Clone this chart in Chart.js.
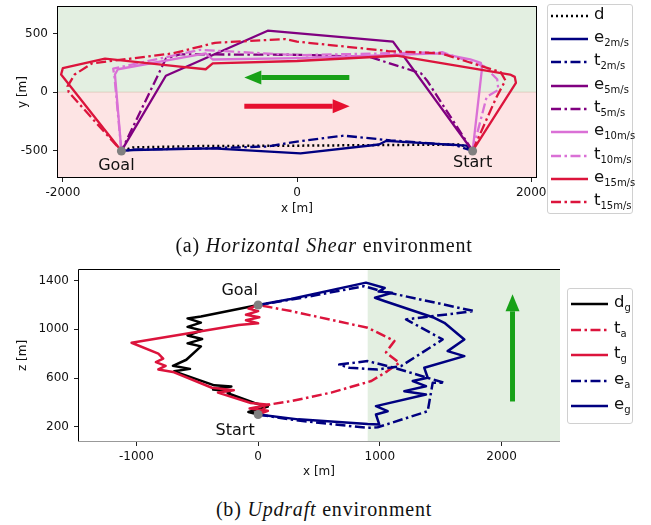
<!DOCTYPE html>
<html>
<head>
<meta charset="utf-8">
<script src="https://cdn.jsdelivr.net/npm/chart.js@4.4.1/dist/chart.umd.min.js"></script>
<style>
  body { margin: 0; width: 651px; height: 525px; background: #fff; position: relative; overflow: hidden; font-family: "DejaVu Sans", sans-serif; }
  canvas { position: absolute; left: 0; }
  #shear { top: 0; }
  #updraft { top: 260px; }
  .leg { position: absolute; background: #fff; border: 1px solid #d0d0d0; border-radius: 3px; box-sizing: border-box; }
  .row { position: absolute; left: 3px; height: 20px; display: flex; align-items: center; white-space: nowrap; }
  .row svg { flex: none; }
  .row span { font-size: 16.5px; line-height: 20px; color: #111; margin-left: 6px; position: relative; top: -2px; }
  .row sub { font-size: 10px; line-height: 0; vertical-align: -4px; }
  .cap { position: absolute; left: 0; width: 648px; text-align: center; font-family: "Liberation Serif", "Times New Roman", serif; font-size: 20px; line-height: 20px; letter-spacing: 0.8px; color: #111; }
</style>
</head>
<body>
<canvas id="shear" width="560" height="225"></canvas>
<canvas id="updraft" width="575" height="225"></canvas>
<div class="leg" id="legShear" style="left:547px;top:4px;width:86px;height:210px"></div>
<div class="leg" id="legUpdraft" style="left:567px;top:288px;width:66px;height:136px"></div>
<div class="cap" style="top:235px">(a) <i>Horizontal Shear</i> environment</div>
<div class="cap" style="top:499px">(b) <i>Updraft</i> environment</div>
<script>
// ---- (a) horizontal shear: tick values
const shearXTicks = [-2000, 0, 2000];
const shearYTicks = [-500, 0, 500];

// ---- (a) trajectories, [x, y] in metres
const dPath = [[1500,-500],[1400,-445],[700,-450],[0,-455],[-800,-458],[-1400,-470],[-1500,-500]];
const e2 = [[1500,-500],[1450,-455],[760,-415],[700,-445],[30,-520],[-720,-478],[-1400,-492],[-1500,-500]];
const t2 = [[1500,-500],[1350,-450],[800,-410],[400,-370],[0,-420],[-250,-462],[-800,-478],[-1400,-488],[-1500,-500]];
const e5 = [[1500,-500],[820,430],[-250,523],[-1120,140],[-1500,-500]];
const t5 = [[1500,-500],[1110,100],[1060,160],[950,195],[620,300],[0,318],[-1000,322],[-1120,285],[-1500,-500]];
const e10 = [[1500,-500],[1580,200],[1570,250],[1480,280],[1220,330],[0,290],[-720,278],[-780,330],[-1530,195],[-1555,150],[-1500,-500]];
const t10 = [[1500,-500],[1620,-40],[1720,20],[1710,110],[1600,220],[1240,340],[0,315],[-830,360],[-1570,200],[-1560,140],[-1500,-500]];
const e15 = [[1500,-500],[1870,80],[1860,130],[1820,150],[850,310],[0,265],[-720,245],[-780,195],[-1000,218],[-1640,285],[-2000,205],[-2015,150],[-1500,-500]];
const t15 = [[1500,-500],[1700,-50],[1780,100],[1740,170],[1230,330],[780,350],[0,430],[-100,452],[-700,420],[-1060,330],[-1750,245],[-1900,150],[-1960,50],[-1950,0],[-1500,-500]];
const shearEnds = [[-1500,-500],[1500,-500]];   // Goal, Start

// ---- (b) updraft: tick values
const updraftXTicks = [-1000, 0, 1000, 2000];
const updraftZTicks = [200, 600, 1000, 1400];

// ---- (b) trajectories, [x, z] in metres
const dg = [[0,300],[-80,320],[80,365],[-30,395],[-250,475],[-230,490],[-370,505],[-220,530],[-360,540],[-690,655],[-560,675],[-700,700],[-590,750],[-470,860],[-580,885],[-460,920],[-580,950],[-460,990],[-580,1020],[-470,1055],[-580,1090],[-470,1105],[0,1200]];
const ta = [[0,300],[80,380],[270,410],[600,480],[930,575],[1060,655],[1160,725],[1050,810],[1120,905],[900,1013],[270,1150],[0,1200]];
const tg = [[0,300],[80,330],[-70,350],[90,380],[-60,395],[-330,480],[-200,500],[-380,520],[-700,650],[-820,670],[-760,700],[-840,730],[-780,760],[-820,800],[-1040,890],[-160,1035],[0,1050],[-100,1075],[10,1100],[-100,1120],[0,1150],[-80,1170],[0,1200]];
const ea = [[0,300],[330,250],[900,190],[982,195],[1393,327],[1434,560],[1530,560],[1118,684],[900,739],[666,711],[748,684],[982,670],[1174,698],[1516,917],[1215,1082],[1776,1150],[1009,1315],[871,1355],[351,1258],[0,1200]];
const eg = [[0,300],[330,260],[900,222],[995,218],[968,300],[1064,327],[968,369],[1379,464],[1201,492],[1379,533],[1270,575],[1393,602],[1365,684],[1694,780],[1557,821],[1694,917],[1530,1054],[1447,1095],[1036,1233],[960,1260],[1100,1300],[990,1310],[1040,1340],[886,1384],[269,1250],[0,1200]];
const updraftEnds = [[0,1200],[0,300]];         // Goal, Start

// wind arrows, [x1, y1, x2, y2] in data units
const shearArrows = [[447,124,-450,124],[-450,-120,450,-120]];
const updraftArrow = [2090,407,2090,1288];

// styles
const navy = '#000080', purple = '#800080', orchid = '#da70d6', crimson = '#dc143c';
const SOLID = [], DASHDOT = [10,3.5,2.5,3.5], DOTTED = [2,3];
const greenBg = '#e3efe1', pinkBg = '#fde4e4';
const tickFont = { family: 'DejaVu Sans', size: 12 };

const pts = a => a.map(p => ({ x: p[0], y: p[1] }));

function lineSet(data, color, dash, width, order) {
  return { data: pts(data), borderColor: color, backgroundColor: color, borderDash: dash,
           borderWidth: width, showLine: true, pointRadius: 0, fill: false, order: order,
           borderJoinStyle: 'round' };
}
function endsSet(data) {
  return { data: pts(data), pointRadius: 4.5, pointBackgroundColor: '#808080',
           pointBorderWidth: 0, showLine: false, order: -1 };
}

function drawArrow(ctx, x1, y1, x2, y2, color) {
  const w = 5, headLen = 17, headW = 14;
  const ang = Math.atan2(y2 - y1, x2 - x1);
  const bx = x2 - headLen * Math.cos(ang), by = y2 - headLen * Math.sin(ang);
  ctx.strokeStyle = color; ctx.lineWidth = w; ctx.lineCap = 'butt'; ctx.setLineDash([]);
  ctx.beginPath(); ctx.moveTo(x1, y1); ctx.lineTo(bx, by); ctx.stroke();
  ctx.fillStyle = color;
  ctx.beginPath(); ctx.moveTo(x2, y2);
  ctx.lineTo(bx + headW / 2 * Math.sin(ang), by - headW / 2 * Math.cos(ang));
  ctx.lineTo(bx - headW / 2 * Math.sin(ang), by + headW / 2 * Math.cos(ang));
  ctx.closePath(); ctx.fill();
}

function axis(min, max, ticks, title, fitSize, horizontal, titlePad) {
  return {
    type: 'linear', min: min, max: max,
    afterBuildTicks: s => { s.ticks = ticks.map(v => ({ value: v })); },
    afterFit: s => {
      if (horizontal) s.height = fitSize; else s.width = fitSize;
      s.paddingLeft = s.paddingRight = s.paddingTop = s.paddingBottom = 0;
    },
    grid: { drawOnChartArea: false, drawTicks: true, tickLength: 4, tickColor: '#222', lineWidth: 1 },
    border: { display: false },
    ticks: { font: tickFont, color: '#111', padding: horizontal ? 4 : 5, maxRotation: 0, autoSkip: false,
             callback: v => String(v) },
    title: { display: true, text: title, font: tickFont, color: '#111', padding: titlePad }
  };
}

const baseOpts = {
  responsive: false, animation: false, events: [],
  plugins: { legend: { display: false }, tooltip: { enabled: false } }
};

// ---------- (a) Horizontal Shear ----------
const shearDecor = {
  id: 'shearDecor',
  beforeDatasetsDraw(chart) {
    const { ctx, chartArea: a, scales: { x, y } } = chart;
    const y0 = y.getPixelForValue(0);
    ctx.save();
    ctx.fillStyle = greenBg; ctx.fillRect(a.left, a.top, a.width, y0 - a.top);
    ctx.fillStyle = pinkBg; ctx.fillRect(a.left, y0, a.width, a.bottom - y0);
    ctx.strokeStyle = 'rgba(190,150,120,0.35)'; ctx.lineWidth = 1;
    ctx.beginPath(); ctx.moveTo(a.left, y0); ctx.lineTo(a.right, y0); ctx.stroke();
    ctx.restore();
  },
  afterDatasetsDraw(chart) {
    const { ctx, chartArea: a, scales: { x, y } } = chart;
    ctx.save();
    shearArrows.forEach((r, i) => drawArrow(ctx, x.getPixelForValue(r[0]), y.getPixelForValue(r[1]),
      x.getPixelForValue(r[2]), y.getPixelForValue(r[3]), i === 0 ? '#17a117' : '#e6102f'));
    ctx.font = '16px "DejaVu Sans"'; ctx.fillStyle = '#111'; ctx.textAlign = 'center';
    const g = shearEnds[0], s = shearEnds[1];
    ctx.fillText('Goal', x.getPixelForValue(g[0]) - 5, y.getPixelForValue(g[1]) + 19);
    ctx.fillText('Start', x.getPixelForValue(s[0]), y.getPixelForValue(s[1]) + 16);
    ctx.strokeStyle = '#000'; ctx.lineWidth = 1;
    ctx.strokeRect(Math.round(a.left) + 0.5, Math.round(a.top) + 0.5, Math.round(a.width) - 1, Math.round(a.height) - 1);
    ctx.restore();
  }
};

const shearSeries = [
  [dPath, '#000', DOTTED, 2.5], [e2, navy, SOLID, 2.3], [t2, navy, DASHDOT, 2.3],
  [e5, purple, SOLID, 2.3], [t5, purple, DASHDOT, 2.3], [e10, orchid, SOLID, 2.3],
  [t10, orchid, DASHDOT, 2.3], [e15, crimson, SOLID, 2.3], [t15, crimson, DASHDOT, 2.3]
];

new Chart(document.getElementById('shear'), {
  type: 'scatter',
  data: { datasets: shearSeries.map((s, i) => lineSet(s[0], s[1], s[2], s[3], 20 - i)).concat([endsSet(shearEnds)]) },
  options: Object.assign({}, baseOpts, {
    layout: { padding: { left: 0, top: 6, right: 23, bottom: 0 } },
    scales: {
      x: axis(-2050, 2050, shearXTicks, 'x [m]', 47, true, { top: 0, bottom: 9 }),
      y: axis(-730, 733, shearYTicks, 'y [m]', 57, false, { top: 16, bottom: 0 })
    }
  }),
  plugins: [shearDecor]
});

// ---------- (b) Updraft ----------
const updraftDecor = {
  id: 'updraftDecor',
  beforeDatasetsDraw(chart) {
    const { ctx, chartArea: a, scales: { x } } = chart;
    const x0 = x.getPixelForValue(900);
    ctx.save();
    ctx.fillStyle = greenBg; ctx.fillRect(x0, a.top, a.right - x0, a.height);
    ctx.restore();
  },
  afterDatasetsDraw(chart) {
    const { ctx, chartArea: a, scales: { x, y } } = chart;
    ctx.save();
    const r = updraftArrow;
    drawArrow(ctx, x.getPixelForValue(r[0]), y.getPixelForValue(r[1]),
      x.getPixelForValue(r[2]), y.getPixelForValue(r[3]), '#17a117');
    ctx.font = '16px "DejaVu Sans"'; ctx.fillStyle = '#111'; ctx.textAlign = 'center';
    const g = updraftEnds[0], s = updraftEnds[1];
    ctx.fillText('Goal', x.getPixelForValue(g[0]) - 18.5, y.getPixelForValue(g[1]) - 10);
    ctx.fillText('Start', x.getPixelForValue(s[0]) - 23, y.getPixelForValue(s[1]) + 20);
    const L = Math.round(a.left) + 0.5, T = Math.round(a.top) + 0.5, B = Math.round(a.bottom) - 0.5;
    ctx.lineWidth = 1;
    ctx.strokeStyle = '#000';
    ctx.beginPath(); ctx.moveTo(L, B); ctx.lineTo(L, T); ctx.lineTo(a.right, T); ctx.stroke();
    ctx.strokeStyle = '#999';
    ctx.beginPath(); ctx.moveTo(L, B); ctx.lineTo(a.right, B); ctx.stroke();
    ctx.restore();
  }
};

const updraftSeries = [
  [dg, '#000', SOLID, 2.5], [ta, crimson, DASHDOT, 2.5], [tg, crimson, SOLID, 2.5],
  [ea, navy, DASHDOT, 2.5], [eg, navy, SOLID, 2.5]
];

new Chart(document.getElementById('updraft'), {
  type: 'scatter',
  data: { datasets: updraftSeries.map((s, i) => lineSet(s[0], s[1], s[2], s[3], 20 - i)).concat([endsSet(updraftEnds)]) },
  options: Object.assign({}, baseOpts, {
    layout: { padding: { left: 0, top: 9, right: 15, bottom: 0 } },
    scales: {
      x: axis(-1480, 2480, updraftXTicks, 'x [m]', 43, true, { top: 0, bottom: 6 }),
      y: axis(74, 1496, updraftZTicks, 'z [m]', 78, false, { top: 16, bottom: 0 })
    }
  }),
  plugins: [updraftDecor]
});

// ---------- legends (HTML, for the subscripts) ----------
const shearLegend = [
  ['d', '', '#000', DOTTED], ['e', '2m/s', navy, SOLID], ['t', '2m/s', navy, DASHDOT],
  ['e', '5m/s', purple, SOLID], ['t', '5m/s', purple, DASHDOT], ['e', '10m/s', orchid, SOLID],
  ['t', '10m/s', orchid, DASHDOT], ['e', '15m/s', crimson, SOLID], ['t', '15m/s', crimson, DASHDOT]
];
const updraftLegend = [
  ['d', 'g', '#000', SOLID], ['t', 'a', crimson, DASHDOT], ['t', 'g', crimson, SOLID],
  ['e', 'a', navy, DASHDOT], ['e', 'g', navy, SOLID]
];

function buildLegend(el, items, firstTop, step) {
  items.forEach((it, i) => {
    const row = document.createElement('div');
    row.className = 'row';
    row.style.top = (firstTop + i * step) + 'px';
    const dash = it[3].length ? ' stroke-dasharray="' + it[3].join(' ') + '"' : '';
    row.innerHTML = '<svg width="37" height="6"><line x1="0" y1="3" x2="37" y2="3" stroke="' + it[2] +
      '" stroke-width="' + (it[3] === DOTTED ? 2.5 : 2.4) + '"' + dash + '/></svg>' +
      '<span>' + it[0] + (it[1] ? '<sub>' + it[1] + '</sub>' : '') + '</span>';
    el.appendChild(row);
  });
}
buildLegend(document.getElementById('legShear'), shearLegend, 0.5, 23.35);
buildLegend(document.getElementById('legUpdraft'), updraftLegend, 5, 25.5);
</script>
</body>
</html>
